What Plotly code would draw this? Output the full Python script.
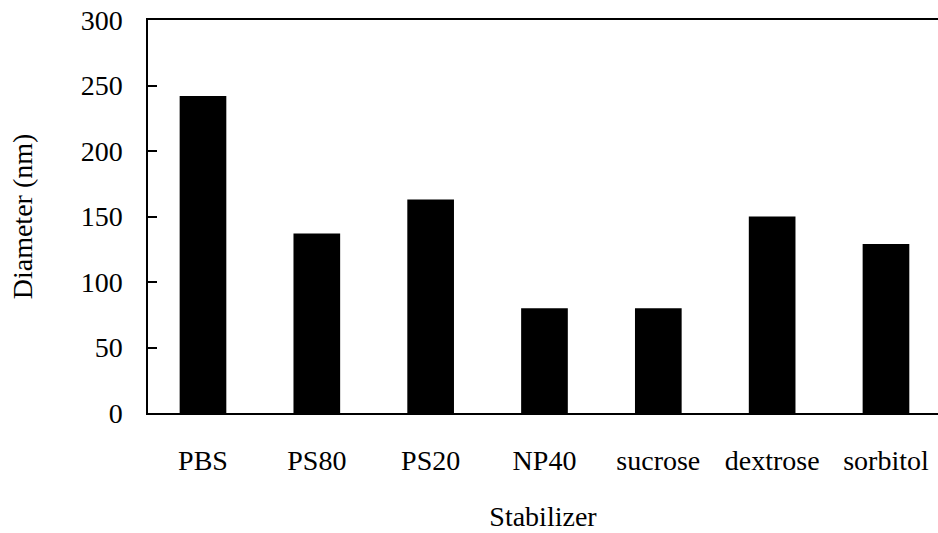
import plotly.graph_objects as go

categories = ["PBS", "PS80", "PS20", "NP40", "sucrose", "dextrose", "sorbitol"]
diameter_nm = [242, 137, 163, 80, 80, 150, 129]
y_ticks = [0, 50, 100, 150, 200, 250, 300]

FONT = "Liberation Serif, Times New Roman, serif"

fig = go.Figure(go.Bar(
    x=categories, y=diameter_nm,
    marker=dict(color="black", line=dict(width=0)),
    width=0.41,
))

fig.update_layout(
    width=938, height=533,
    margin=dict(l=148, r=0, t=20, b=120),
    plot_bgcolor="white", paper_bgcolor="white",
    font=dict(family=FONT, size=28, color="black"),
    showlegend=False,
    xaxis=dict(
        type="category",
        range=[-0.483, 6.457],
        showline=True, linecolor="black", linewidth=1.5,
        mirror=True,
        ticks="", showgrid=False,
        ticklabelstandoff=22,
        title=dict(text="Stabilizer", standoff=31, font=dict(size=28)),
    ),
    yaxis=dict(
        range=[0, 300],
        tickvals=y_ticks,
        showline=True, linecolor="black", linewidth=1.5,
        ticks="inside", ticklen=9, tickwidth=1.5, tickcolor="black",
        showgrid=False, zeroline=False,
        ticklabelstandoff=18,
        title=dict(text="Diameter (nm)", standoff=40, font=dict(size=28)),
    ),
)

fig.write_html("out.html")
